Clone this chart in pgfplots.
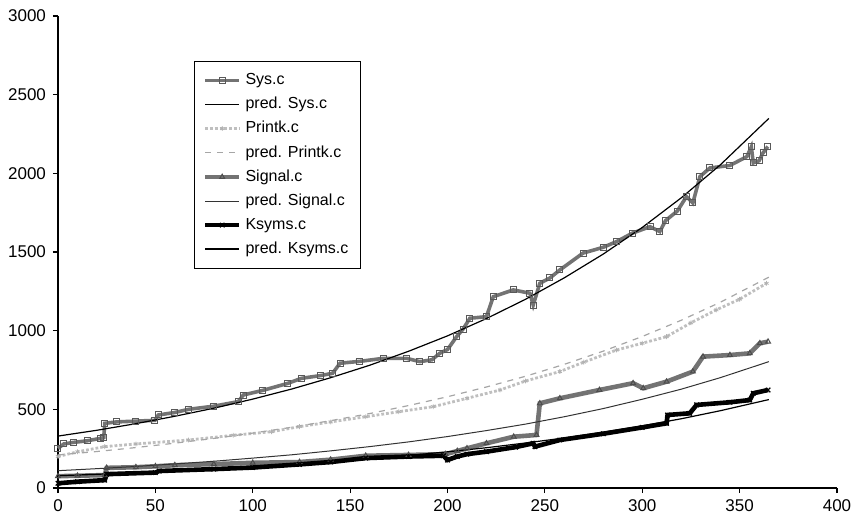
\documentclass[border=0pt]{standalone}
\usepackage{pgfplots}
\pgfplotsset{compat=1.18}
\usepackage{fontspec}
\setmainfont{Liberation Sans}
\begin{document}
\begin{tikzpicture}
\begin{axis}[
  name=ax,
  scale only axis,
  width=389.5pt, height=236pt,
  xmin=0, xmax=400, ymin=0, ymax=3000,
  xtick={0,50,...,400}, ytick={0,500,...,3000},
  axis x line*=bottom, axis y line*=left,
  axis line style={-, black, line width=0.6pt},
  tick align=outside, tick style={black, line width=0.6pt},
  major tick length=2.5pt,
  tick label style={font=\fontsize{8.5}{10}\selectfont},
  /pgf/number format/assume math mode=true,
  /pgf/number format/1000 sep={},
  clip=false,
  legend cell align=left,
  legend style={at={(0.175,0.905)}, anchor=north west, draw=black, line width=0.5pt,
    font=\fontsize{8}{9.5}\selectfont, row sep=0.8pt, inner xsep=4pt, inner ysep=4pt},
]
% Sys.c
\addplot[black!55, line width=1.8pt, mark=square, mark size=1.5pt, mark options={black!65, line width=0.5pt}] coordinates {
(0,252) (3,280) (8,290) (15,300) (22,316) (23.5,320) (24,411) (30,420) (40,425) (49.8,430) (51.5,464) (60,480) (67,500) (80,520) (92.6,549) (95.1,591) (105,620) (118,665) (125,697) (135,715) (141,729) (144.8,793) (155,805) (167,824) (179,824) (185.8,803) (192,815) (196,856) (200,880) (204.7,962) (208,1010) (211.5,1079) (220,1089) (223.5,1216) (233.8,1259) (242.3,1238) (244,1163) (247.4,1301) (252.6,1335) (257.7,1386) (269.6,1493) (280,1530) (286.8,1566) (295,1620) (304,1661) (309,1630) (312,1700) (318,1760) (322.7,1852) (326,1812) (329.6,1979) (334.7,2034) (345,2050) (353.7,2106) (356,2168) (357,2066) (360,2080) (362,2130) (364.5,2170)
};
\addlegendentry{Sys.c}
% pred Sys.c
\addplot[black, line width=0.6pt] coordinates {
(0,330) (20,367) (40,409) (60,456) (80,507) (100,565) (120,629) (140,701) (160,780) (180,869) (200,967) (220,1077) (240,1199) (260,1336) (280,1487) (300,1656) (320,1844) (340,2053) (365,2349)
};
\addlegendentry{pred. Sys.c}
% Printk.c
\addplot[black!25, line width=1.4pt, densely dotted, mark=asterisk, mark size=1.2pt, mark options={solid, black!30, line width=0.4pt}] coordinates {
(0,200) (10,230) (24,263) (40,280) (67,305) (90,335) (109.7,358) (124,390) (140,420) (158,453) (175,485) (192.7,517) (210,570) (227,623) (240,680) (257.7,740) (270,800) (286.8,877) (300,920) (312.5,962) (325,1050) (338,1132) (350,1200) (363.8,1301)
};
\addlegendentry{Printk.c}
% pred Printk.c
\addplot[black!35, line width=0.6pt, dashed] coordinates {
(0,210) (20,232) (40,257) (60,285) (80,315) (100,349) (120,386) (140,428) (160,473) (180,524) (200,580) (220,642) (240,710) (260,786) (280,870) (300,963) (320,1066) (340,1180) (365,1340)
};
\addlegendentry{pred. Printk.c}
% Signal.c
\addplot[black!55, line width=2.3pt, mark=triangle, mark size=1.4pt, mark options={black!70, line width=0.5pt}] coordinates {
(0,75) (10,78) (24,82) (25,128) (40,132) (50,138) (60,145) (80,152) (100,160) (124,165) (140,180) (158,205) (180,210) (199,215) (205,235) (210,252) (220,284) (234,326) (245.7,337) (247.4,538) (257.7,570) (278,623) (295.3,666) (300.5,634) (312.5,676) (326,740) (331.2,835) (345,845) (355.2,856) (360.4,920) (364.6,930)
};
\addlegendentry{Signal.c}
% pred Signal.c
\addplot[black!80, line width=0.5pt] coordinates {
(0,110) (20,123) (40,137) (60,153) (80,170) (100,190) (120,211) (140,236) (160,263) (180,293) (200,327) (220,365) (240,406) (260,453) (280,505) (300,564) (320,628) (340,701) (365,803)
};
\addlegendentry{pred. Signal.c}
% Ksyms.c
\addplot[black, line width=2.3pt, mark=x, mark size=1.6pt, mark options={black, line width=0.6pt}] coordinates {
(0,30) (10,40) (24,50) (25,88) (50,98) (52,108) (80,120) (100,130) (124,150) (140,165) (158,190) (180,200) (198,205) (200,178) (205,200) (210,215) (220,231) (235,260) (244,284) (244.9,263) (257.7,305) (280,345) (300,385) (312.5,411) (313,464) (324.4,475) (327.9,528) (345,545) (355.2,559) (357,602) (364.6,623)
};
\addlegendentry{Ksyms.c}
% pred Ksyms.c
\addplot[black, line width=0.6pt] coordinates {
(0,78) (20,87) (40,97) (60,108) (80,120) (100,134) (120,149) (140,166) (160,185) (180,207) (200,230) (220,256) (240,286) (260,318) (280,355) (300,395) (320,440) (340,491) (365,562)
};
\addlegendentry{pred. Ksyms.c}
\end{axis}
\pgfresetboundingbox
\path ([xshift=-29pt,yshift=-12.5pt]ax.south west) rectangle ([xshift=8.5pt,yshift=8pt]ax.north east);
\end{tikzpicture}
\end{document}
